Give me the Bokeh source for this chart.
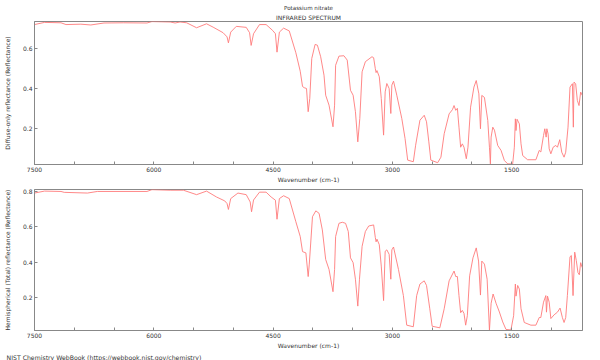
from bokeh.plotting import figure
from bokeh.models import Range1d, FixedTicker, Title
from bokeh.layouts import column
from bokeh.embed import file_html
from bokeh.resources import INLINE

# ---- data ----
wn_diffuse = [7500, 7375, 7167, 7104, 6917, 6792, 6626, 6377, 6086, 6024, 5794, 5732, 5670, 5587,
              5462, 5337, 5254, 5129, 5079, 5062, 5033, 4963, 4838, 4796, 4776, 4746, 4671, 4588,
              4505, 4471, 4451, 4421, 4368, 4297, 4214, 4159, 4130, 4109, 4080, 4059, 4039, 4014,
              3972, 3943, 3902, 3860, 3839, 3797, 3747, 3727, 3714, 3672, 3610, 3568, 3527, 3494,
              3465, 3435, 3410, 3381, 3340, 3257, 3236, 3215, 3205, 3194, 3165, 3140, 3111, 3091,
              3070, 3041, 3020, 3007, 2986, 2945, 2882, 2841, 2808, 2737, 2708, 2654, 2600, 2571,
              2542, 2517, 2431, 2390, 2349, 2287, 2246, 2225, 2204, 2183, 2163, 2142, 2121, 2100,
              2071, 2050, 2017, 1975, 1946, 1913, 1893, 1876, 1843, 1801, 1780, 1768, 1759, 1738,
              1717, 1676, 1634, 1592, 1550, 1488, 1467, 1454, 1446, 1433, 1404, 1383, 1362, 1300,
              1196, 1154, 1134, 1100, 1084, 1067, 1058, 1042, 1029, 1008, 979, 946, 925, 896,
              871, 842, 821, 792, 767, 737, 725, 717, 696, 675, 654, 633, 613]
r_diffuse = [0.722, 0.733, 0.731, 0.722, 0.724, 0.720, 0.730, 0.731, 0.730, 0.737, 0.735, 0.730, 0.735, 0.731,
             0.706, 0.726, 0.709, 0.681, 0.660, 0.630, 0.684, 0.713, 0.708, 0.681, 0.617, 0.676, 0.722, 0.722,
             0.692, 0.676, 0.583, 0.684, 0.704, 0.690, 0.580, 0.487, 0.410, 0.404, 0.400, 0.283, 0.350, 0.551,
             0.622, 0.618, 0.560, 0.467, 0.366, 0.316, 0.207, 0.316, 0.517, 0.563, 0.565, 0.543, 0.391, 0.366,
             0.283, 0.131, 0.249, 0.484, 0.535, 0.560, 0.555, 0.500, 0.480, 0.490, 0.459, 0.350, 0.165, 0.383,
             0.425, 0.400, 0.274, 0.417, 0.437, 0.366, 0.249, 0.148, 0.039, 0.031, 0.114, 0.240, 0.265, 0.232,
             0.131, 0.039, 0.026, 0.054, 0.172, 0.272, 0.293, 0.314, 0.290, 0.300, 0.205, 0.104, 0.121, 0.104,
             0.046, 0.104, 0.306, 0.407, 0.440, 0.373, 0.197, 0.365, 0.355, 0.239, 0.104, 0.020, 0.155, 0.205,
             0.190, 0.113, 0.088, 0.037, 0.020, 0.020, 0.104, 0.247, 0.188, 0.245, 0.222, 0.121, 0.062, 0.041,
             0.041, 0.088, 0.080, 0.163, 0.197, 0.155, 0.197, 0.170, 0.096, 0.071, 0.104, 0.113, 0.104, 0.142,
             0.079, 0.054, 0.079, 0.205, 0.407, 0.424, 0.205, 0.432, 0.424, 0.340, 0.314, 0.382, 0.365]

wn_total = [7500, 7375, 7167, 7126, 6834, 6710, 6086, 6024, 5794, 5628, 5462, 5337, 5212, 5108,
            5079, 5062, 5033, 4942, 4838, 4788, 4771, 4746, 4671, 4588, 4525, 4471, 4451, 4421,
            4368, 4297, 4214, 4159, 4130, 4088, 4059, 4045, 4005, 3963, 3922, 3881, 3839, 3797,
            3747, 3727, 3714, 3672, 3630, 3589, 3555, 3527, 3494, 3465, 3435, 3414, 3381, 3340,
            3298, 3236, 3215, 3205, 3194, 3165, 3140, 3111, 3091, 3070, 3041, 3020, 3007, 2986,
            2924, 2862, 2820, 2737, 2695, 2654, 2600, 2571, 2530, 2500, 2404, 2349, 2287, 2225,
            2204, 2183, 2163, 2142, 2121, 2100, 2079, 2058, 2029, 1987, 1946, 1917, 1893, 1876,
            1843, 1809, 1780, 1759, 1734, 1697, 1655, 1613, 1572, 1510, 1476, 1454, 1446, 1425,
            1404, 1383, 1342, 1259, 1196, 1154, 1134, 1100, 1071, 1063, 1050, 1029, 1008, 967,
            925, 892, 863, 842, 821, 800, 767, 750, 729, 708, 688, 667, 650, 633, 613]
r_total = [0.789, 0.800, 0.798, 0.793, 0.789, 0.798, 0.798, 0.808, 0.805, 0.805, 0.780, 0.800, 0.767, 0.745,
           0.730, 0.697, 0.758, 0.789, 0.780, 0.739, 0.684, 0.750, 0.794, 0.794, 0.767, 0.749, 0.642, 0.758,
           0.774, 0.758, 0.628, 0.545, 0.460, 0.453, 0.320, 0.390, 0.656, 0.689, 0.675, 0.582, 0.416, 0.360,
           0.235, 0.360, 0.545, 0.619, 0.625, 0.619, 0.573, 0.425, 0.398, 0.305, 0.154, 0.305, 0.490, 0.573,
           0.604, 0.610, 0.540, 0.515, 0.530, 0.499, 0.379, 0.185, 0.462, 0.470, 0.445, 0.305, 0.470, 0.486,
           0.360, 0.213, 0.047, 0.038, 0.213, 0.278, 0.296, 0.270, 0.139, 0.041, 0.032, 0.139, 0.296, 0.351,
           0.320, 0.320, 0.213, 0.117, 0.130, 0.113, 0.047, 0.100, 0.324, 0.425, 0.481, 0.407, 0.216, 0.407,
           0.390, 0.305, 0.019, 0.170, 0.222, 0.170, 0.121, 0.065, 0.023, 0.020, 0.100, 0.278, 0.210, 0.270,
           0.250, 0.139, 0.062, 0.047, 0.047, 0.090, 0.090, 0.176, 0.213, 0.120, 0.210, 0.176, 0.084, 0.105,
           0.120, 0.143, 0.090, 0.062, 0.090, 0.213, 0.431, 0.438, 0.213, 0.457, 0.410, 0.342, 0.330, 0.398, 0.370]

x_major = [7500, 6000, 4500, 3000, 1500]
x_minor = [7000, 6500, 5500, 5000, 4000, 3500, 2500, 2000, 1000]
y_ticks_diffuse = [0.2, 0.4, 0.6]
y_ticks_total = [0.2, 0.4, 0.6, 0.8]

title_text = "Potassium nitrate"
subtitle_text = "INFRARED SPECTRUM"
xlabel_text = "Wavenumber (cm-1)"
ylabel_diffuse = "Diffuse-only reflectance (Reflectance)"
ylabel_total = "Hemispherical (Total) reflectance (Reflectance)"
footer_text = "NIST Chemistry WebBook (https://webbook.nist.gov/chemistry)"

FONT = "DejaVu Sans"
GRAY = "#888888"
TXT = "#333333"


def make_panel(height, ylabel, wn, vals, yrange, yticks, top, bottom):
    p = figure(width=600, height=height, output_backend="svg", toolbar_location=None,
               x_range=Range1d(7500, 610), y_range=Range1d(*yrange),
               min_border_left=30, min_border_right=18,
               min_border_top=top, min_border_bottom=bottom)
    p.line(wn, vals, line_color="#ff7a7a", line_width=0.9)
    p.grid.visible = False
    p.outline_line_color = GRAY
    p.background_fill_color = "white"
    p.border_fill_color = "white"

    xa = p.xaxis[0]
    xa.ticker = FixedTicker(ticks=x_major, minor_ticks=x_minor)
    ya = p.yaxis[0]
    ya.ticker = FixedTicker(ticks=yticks)
    for ax in (xa, ya):
        ax.axis_line_color = GRAY
        ax.major_tick_line_color = GRAY
        ax.minor_tick_line_color = GRAY
        ax.major_tick_in = 3
        ax.major_tick_out = 0
        ax.minor_tick_in = 3
        ax.minor_tick_out = 0
        ax.major_label_text_font = FONT
        ax.major_label_text_font_size = "6px"
        ax.major_label_text_color = TXT
        ax.axis_label_text_font = FONT
        ax.axis_label_text_font_size = "6px"
        ax.axis_label_text_font_style = "normal"
        ax.axis_label_text_color = TXT
        ax.major_label_standoff = 2
    ya.minor_tick_line_color = None
    xa.axis_label = xlabel_text
    xa.axis_label_standoff = 1
    ya.axis_label = ylabel
    ya.axis_label_standoff = 9
    return p


p1 = make_panel(186, ylabel_diffuse, wn_diffuse, r_diffuse, (0.017, 0.7375), y_ticks_diffuse, 21, 22)
p1.add_layout(Title(text=subtitle_text, align="center", text_font=FONT, text_font_size="6px",
                    text_font_style="normal", text_color=TXT, standoff=1), "above")
p1.add_layout(Title(text=title_text, align="center", text_font=FONT, text_font_size="5.6px",
                    text_font_style="normal", text_color=TXT, standoff=1), "above")

p2 = make_panel(174, ylabel_total, wn_total, r_total, (0.017, 0.809), y_ticks_total, 3, 28)
p2.add_layout(Title(text=footer_text, align="left", offset=-28, text_font=FONT, text_font_size="6.2px",
                    text_font_style="normal", text_color=TXT, standoff=0), "below")

layout = column(p1, p2, spacing=0)

open("out.html", "w").write(file_html(layout, INLINE))
